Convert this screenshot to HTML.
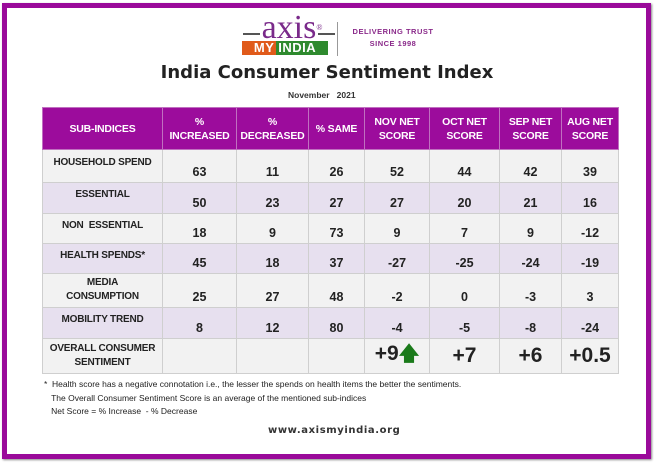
<!DOCTYPE html>
<html><head><meta charset="utf-8"><style>
*{margin:0;padding:0;box-sizing:border-box}
body{width:654px;height:463px;background:#fff;position:relative;overflow:hidden;font-family:"Liberation Sans",sans-serif}
.frame{position:absolute;left:2px;top:3px;width:649px;height:456px;border:5px solid #9a0a9a;box-shadow:1px 1px 2px #888}
.abs{position:absolute}
table{position:absolute;left:42px;top:107px;border-collapse:collapse;table-layout:fixed}
td{border:1px solid #cfcfcf;text-align:center;font-weight:bold;color:#222;font-size:12.5px}
th{background:#9c0c9c;color:#fff;font-size:10.5px;font-weight:bold;border:1px solid #c070c0;line-height:14px;height:42px;letter-spacing:-0.2px}
td.l{font-size:10px;vertical-align:middle;padding-bottom:6px;line-height:14px;letter-spacing:-0.2px}
td.n{vertical-align:bottom;padding-bottom:3px}
tr.a td{background:#f2f2f2}
tr.b td{background:#e7e0ef}
td.big{font-size:21px;vertical-align:middle;font-weight:bold}
</style></head><body>
<div class="frame"></div>
<div class="abs" style="left:242px;top:14px;width:100px;text-align:center;font-family:'Liberation Serif',serif;font-size:34px;color:#7a2a8a;line-height:28px">axis<sup style="font-size:8px;vertical-align:top">®</sup></div>
<div class="abs" style="left:243px;top:33px;width:17px;height:2px;background:#555"></div>
<div class="abs" style="left:318px;top:33px;width:17px;height:2px;background:#555"></div>
<div class="abs" style="left:242px;top:41px;width:86px;height:14px;background:#e05a1a"></div>
<div class="abs" style="left:276px;top:41px;width:52px;height:14px;background:#2e8a2e"></div>
<div class="abs" style="left:242px;top:40px;width:86px;text-align:center;color:#fff;font-weight:bold;font-size:13px;letter-spacing:0.5px">MY INDIA</div>
<div class="abs" style="left:337px;top:22px;width:1px;height:34px;background:#999"></div>
<div class="abs" style="left:343px;top:26px;width:100px;text-align:center;color:#8a2a8a;font-weight:bold;font-size:7.5px;line-height:12px;letter-spacing:0.5px">DELIVERING TRUST<br>SINCE 1998</div>
<div class="abs" style="left:0;top:62px;width:654px;text-align:center;font-family:'DejaVu Sans',sans-serif;font-weight:bold;font-size:18px;color:#222">India Consumer Sentiment Index</div>
<div class="abs" style="left:288px;top:90px;font-size:8.5px;font-weight:bold;color:#333">November &nbsp;&nbsp;2021</div>
<table>
<colgroup><col style="width:120px"><col style="width:74px"><col style="width:72px"><col style="width:56px"><col style="width:65px"><col style="width:70px"><col style="width:62px"><col style="width:57px"></colgroup>
<tr><th>SUB-INDICES</th><th>%<br>INCREASED</th><th>%<br>DECREASED</th><th>% SAME</th><th>NOV NET<br>SCORE</th><th>OCT NET<br>SCORE</th><th>SEP NET<br>SCORE</th><th>AUG NET<br>SCORE</th></tr>
<tr class="a" style="height:33px"><td class="l">HOUSEHOLD SPEND</td><td class="n">63</td><td class="n">11</td><td class="n">26</td><td class="n">52</td><td class="n">44</td><td class="n">42</td><td class="n">39</td></tr>
<tr class="b" style="height:31px"><td class="l">ESSENTIAL</td><td class="n">50</td><td class="n">23</td><td class="n">27</td><td class="n">27</td><td class="n">20</td><td class="n">21</td><td class="n">16</td></tr>
<tr class="a" style="height:30px"><td class="l">NON &nbsp;ESSENTIAL</td><td class="n">18</td><td class="n">9</td><td class="n">73</td><td class="n">9</td><td class="n">7</td><td class="n">9</td><td class="n">-12</td></tr>
<tr class="b" style="height:30px"><td class="l">HEALTH SPENDS*</td><td class="n">45</td><td class="n">18</td><td class="n">37</td><td class="n">-27</td><td class="n">-25</td><td class="n">-24</td><td class="n">-19</td></tr>
<tr class="a" style="height:34px"><td class="l" style="padding-bottom:2px">MEDIA<br>CONSUMPTION</td><td class="n">25</td><td class="n">27</td><td class="n">48</td><td class="n">-2</td><td class="n">0</td><td class="n">-3</td><td class="n">3</td></tr>
<tr class="b" style="height:31px"><td class="l">MOBILITY TREND</td><td class="n">8</td><td class="n">12</td><td class="n">80</td><td class="n">-4</td><td class="n">-5</td><td class="n">-8</td><td class="n">-24</td></tr>
<tr class="a" style="height:34px"><td class="l" style="padding-bottom:0">OVERALL CONSUMER<br>SENTIMENT</td><td></td><td></td><td></td><td class="big">+9<span style="color:#1a7a1a;font-size:20px">&#129093;</span></td><td class="big">+7</td><td class="big">+6</td><td class="big">+0.5</td></tr>
</table>
<div class="abs" style="left:44px;top:378px;font-size:8.5px;color:#222;line-height:13.5px">* &nbsp;Health score has a negative connotation i.e., the lesser the spends on health items the better the sentiments.<br>&nbsp;&nbsp;&nbsp;The Overall Consumer Sentiment Score is an average of the mentioned sub-indices<br>&nbsp;&nbsp;&nbsp;Net Score = % Increase &nbsp;- % Decrease</div>
<div class="abs" style="left:268px;top:425px;font-family:'DejaVu Sans',sans-serif;font-size:10px;font-weight:bold;color:#333;letter-spacing:0.6px">www.axismyindia.org</div>
</body></html>
